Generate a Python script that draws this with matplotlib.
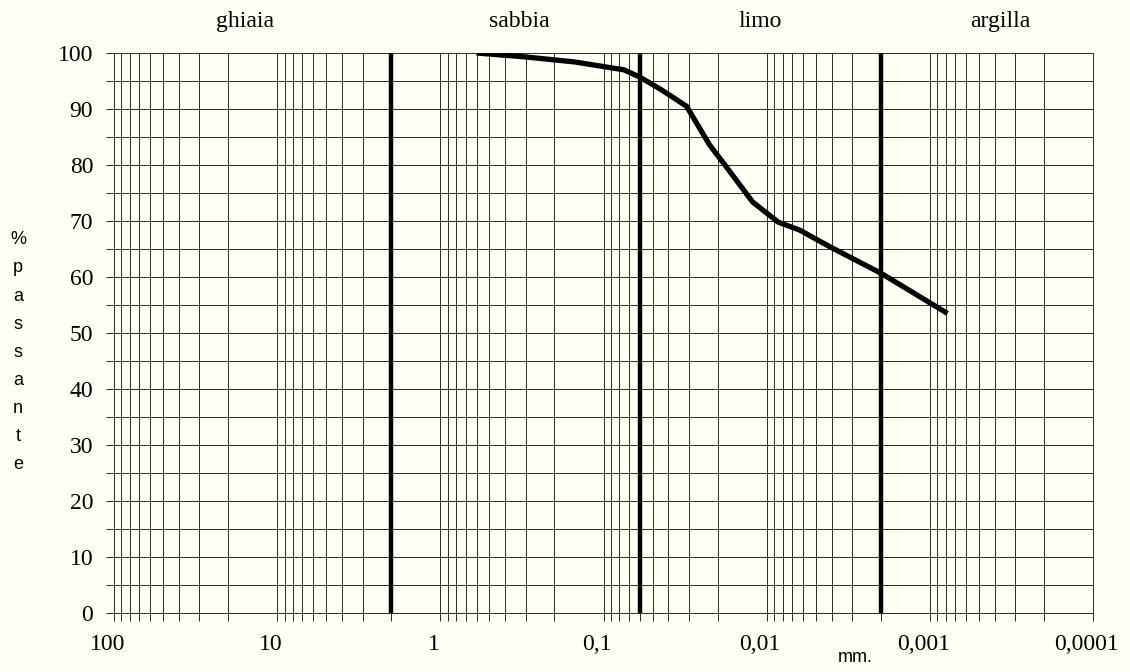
import matplotlib.pyplot as plt
from matplotlib.ticker import FixedLocator, LogLocator, NullFormatter
from matplotlib.transforms import ScaledTranslation
import numpy as np

# grain size curve (diameter mm, % passing)
diam = [0.6, 0.3, 0.15, 0.106, 0.075, 0.06, 0.044, 0.031, 0.0224, 0.0176,
        0.0122, 0.0085, 0.0063, 0.0041, 0.002, 0.00078]
passing = [100, 99.3, 98.4, 97.7, 97.0, 95.7, 93.4, 90.5, 83.6, 79.6,
           73.4, 69.8, 68.4, 65.4, 60.7, 53.5]

# class boundaries and names
bounds = [2, 0.06, 0.002]
classes = ['ghiaia', 'sabbia', 'limo', 'argilla']
class_x = [0.217, 0.46, 0.673, 0.885]

xticks = [100, 10, 1, 0.1, 0.01, 0.001, 0.0001]
xlabels = ['100', '10', '1', '0,1', '0,01', '0,001', '0,0001']
yticks = list(range(0, 101, 10))

bg = '#fffff3'
serif = 'Liberation Serif'
sans = 'Liberation Sans'

fig = plt.figure(figsize=(11.3, 6.72), dpi=100, facecolor=bg)
ax = fig.add_axes([0.1009, 0.0878, 0.8664, 0.8333], facecolor=bg)

ax.set_xscale('log')
ax.set_xlim(100, 0.0001)
ax.set_ylim(0, 100)

ax.xaxis.set_major_locator(FixedLocator(xticks))
ax.xaxis.set_minor_locator(LogLocator(base=10, subs=np.arange(2, 10)))
ax.xaxis.set_minor_formatter(NullFormatter())
ax.set_xticklabels(xlabels, fontfamily=serif, fontsize=17)
ax.set_yticks(yticks)
ax.set_yticks(range(5, 100, 10), minor=True)
ax.set_yticklabels([str(v) for v in yticks], fontfamily=serif, fontsize=17)

ax.grid(True, which='both', color='#2a2a2a', lw=0.7)
ax.tick_params(axis='x', which='both', direction='out', length=6, width=0.7,
               color='#2a2a2a', pad=9)
ax.tick_params(axis='y', which='both', direction='out', length=6, width=0.7,
               color='#2a2a2a', pad=9)

# labels sit a little left of their grid line in the original
# (done after tick_params, which resets the label transforms)
shift = ScaledTranslation(-0.065, 0, fig.dpi_scale_trans)
for lab in ax.get_xticklabels():
    lab.set_transform(lab.get_transform() + shift)

for s in ['left', 'top']:
    ax.spines[s].set_visible(False)
for s in ['right', 'bottom']:
    ax.spines[s].set_color('#2a2a2a')
    ax.spines[s].set_linewidth(0.7)

for b in bounds:
    ax.plot([b, b], [0, 100], color='black', lw=3.2, solid_capstyle='round',
            zorder=3)

ax.plot(diam, passing, color='black', lw=3.8, solid_capstyle='butt',
        solid_joinstyle='round', zorder=4)

for name, x in zip(classes, class_x):
    fig.text(x, 0.968, name, ha='center', va='center', fontfamily=serif,
             fontsize=17)

fig.text(0.016, 0.476, '%\np\na\ns\ns\na\nn\nt\ne', ha='center', va='center',
         fontfamily=sans, fontsize=13, linespacing=1.85)
fig.text(0.757, 0.022, 'mm.', ha='center', va='center', fontfamily=sans,
         fontsize=13)

plt.savefig('out.png', dpi=100, facecolor=bg)
plt.close()
